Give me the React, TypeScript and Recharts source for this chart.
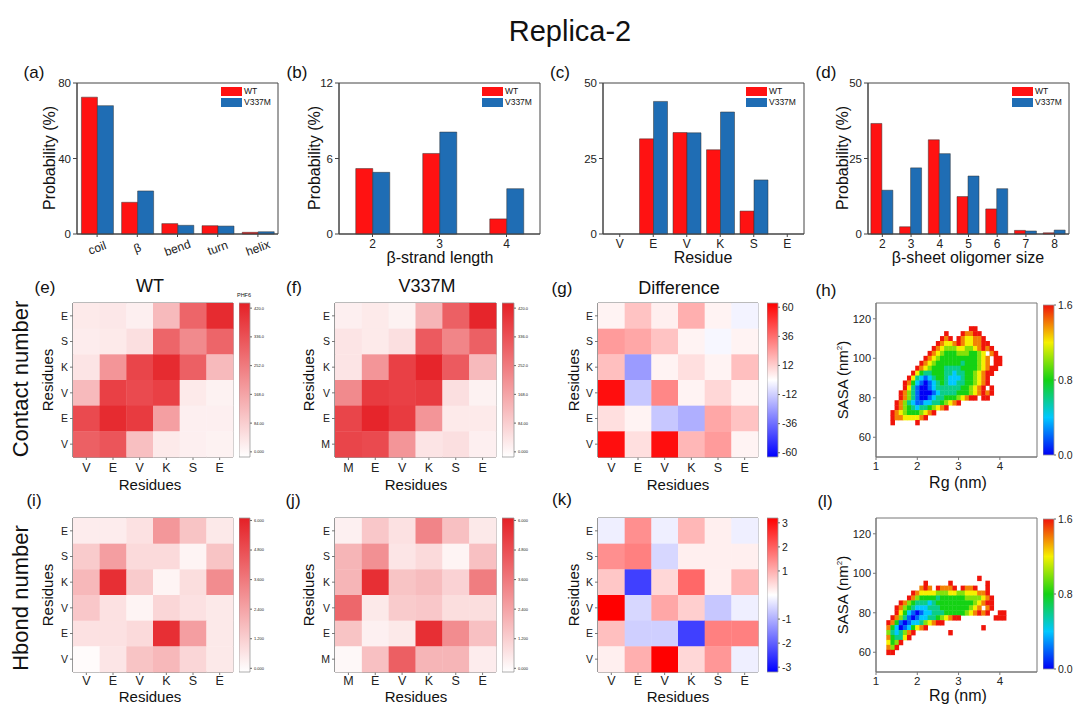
import React from "react";
import {
  Bar,
  BarChart,
  ReferenceArea,
  Scatter,
  ScatterChart,
  XAxis,
  YAxis
} from "recharts";

const FONT = "'Liberation Sans', Arial, Helvetica, sans-serif";
const RED = "#ff1212";
const BLUE = "#1f6db4";
const AXIS = "#444";
const FRAME = "#777";

// ---- (a) secondary structure ----
const ssCategories = ["coil", "β", "bend", "turn", "helix"];
const ssWT = [72.5, 16.8, 5.5, 4.4, 0.9];
const ssV337M = [68.0, 22.8, 4.6, 4.2, 1.2];

// ---- (b) beta-strand length ----
const strandLengths = ["2", "3", "4"];
const strandWT = [5.2, 6.4, 1.2];
const strandV337M = [4.9, 8.1, 3.6];

// ---- (c) per-residue beta probability ----
const residueCats = ["V", "E", "V", "K", "S", "E"];
const residueWT = [0, 31.5, 33.6, 27.9, 7.6, 0];
const residueV337M = [0, 43.9, 33.5, 40.4, 17.9, 0];

// ---- (d) beta-sheet oligomer size ----
const oligomerSizes = ["2", "3", "4", "5", "6", "7", "8"];
const oligomerWT = [36.6, 2.4, 31.2, 12.4, 8.3, 1.2, 0.4];
const oligomerV337M = [14.5, 21.9, 26.6, 19.2, 15.0, 1.0, 1.3];

// ---- heatmaps (rows listed top -> bottom) ----
const residuesWT = ["V", "E", "V", "K", "S", "E"];
const residuesMut = ["M", "E", "V", "K", "S", "E"];

const contactWT = [
  [40, 45, 30, 130, 290, 400],
  [35, 40, 60, 290, 220, 290],
  [50, 200, 350, 400, 300, 130],
  [130, 360, 340, 360, 40, 25],
  [340, 400, 370, 180, 30, 30],
  [300, 320, 120, 40, 30, 25]
];
const contactMut = [
  [30, 40, 25, 140, 300, 410],
  [50, 40, 60, 310, 230, 300],
  [50, 200, 360, 410, 310, 130],
  [220, 370, 360, 370, 60, 25],
  [350, 410, 370, 200, 40, 40],
  [350, 340, 200, 50, 60, 30]
];
const contactDiff = [
  [3, 15, 4, 20, 3, -3],
  [25, 22, 15, 3, -2, 3],
  [16, -25, 3, 8, 3, 16],
  [60, -14, 30, 3, 10, 3],
  [8, 3, -14, -20, 22, 15],
  [60, 8, 60, 18, 25, 3]
];
const hbondWT = [
  [0.5, 0.5, 0.8, 2.8, 1.6, 0.6],
  [1.4, 2.6, 1.0, 1.0, 0.3, 1.6],
  [1.9, 5.6, 1.4, 0.3, 0.9, 3.1],
  [1.5, 0.8, 0.3, 1.1, 0.8, 0.6],
  [0.8, 0.8, 1.0, 5.6, 2.6, 0.6],
  [0.1, 0.7, 1.6, 1.9, 1.1, 0.6]
];
const hbondMut = [
  [0.4, 1.5, 0.8, 3.3, 1.7, 0.6],
  [2.0, 3.0, 0.7, 1.0, 0.3, 1.7],
  [2.0, 5.6, 1.6, 1.8, 1.2, 3.5],
  [4.1, 0.6, 1.4, 1.5, 0.9, 0.9],
  [1.6, 0.4, 0.6, 5.6, 3.1, 1.7],
  [0.2, 1.7, 4.3, 2.0, 2.0, 0.5]
];
const hbondDiff = [
  [-0.2, 1.4, -0.2, 0.9, 0.2, -0.2],
  [1.4, 1.6, -0.5, 0.2, 0.2, 0.2],
  [0.7, -2.4, 0.5, 1.9, 0.2, 0.9],
  [3.2, -0.5, 1.1, 0.6, -0.7, -0.2],
  [0.8, -0.6, -0.6, -2.4, 1.6, 1.6],
  [0.2, 1.0, 3.2, 0.5, 1.3, -0.2]
];

const contactTicks = [0, 84, 168, 252, 336, 420];
const hbondTicks = [0, 1.2, 2.4, 3.6, 4.8, 6];
const contactDiffTicks = [-60, -36, -12, 12, 36, 60];
const hbondDiffTicks = [-3, -2, -1, 1, 2, 3];
const fesTicks = [0, 0.8, 1.6];

// ---- free energy maps: Rg (columns) x SASA (rows), digit d = d*0.2, "." = empty ----
const rgLevels = [1.2, 1.3, 1.4, 1.5, 1.6, 1.7, 1.8, 1.9, 2.0, 2.1, 2.2, 2.3, 2.4, 2.5, 2.6, 2.7, 2.8, 2.9, 3.0, 3.1, 3.2, 3.3, 3.4, 3.5, 3.6, 3.7, 3.8, 3.9, 4.0, 4.1];
const sasaLevels = [117.5, 115, 112.5, 110, 107.5, 105, 102.5, 100, 97.5, 95, 92.5, 90, 87.5, 85, 82.5, 80, 77.5, 75, 72.5, 70, 67.5, 65, 62.5, 60];

const fesWT = [
  "",
  ".....................88",
  "...............8...87788",
  "..............878.8766778",
  ".............8766787667788",
  "............876555665567878",
  "...........87654445554456.78",
  "..........8765444444444567.88",
  ".........87654444443444567.88",
  "........87654443333444456788",
  ".......86433444332334456788",
  "......86321234432223445678",
  ".....874210123432233445678",
  ".....86310012333333445678.8",
  "....87531000123333444567878",
  "....8753100123344456788.88",
  "...8753211223345678",
  "...8754323345678",
  "..87654445678",
  "..877666678",
  "..8.....8",
  "",
  "",
  ""
];
const fesMut = [
  "",
  "",
  "",
  "",
  "",
  "",
  "",
  "",
  ".......................8",
  "..........8.....8........8",
  ".........787.87778.8778..8",
  ".......8766665556655666778",
  "......875444434444445555678",
  "....87543332344444444456788",
  "...875432223334444444567.78",
  "...86421012233344444567878..88",
  "..87531012233456788........888",
  ".87410122356788",
  ".7420124678.............8",
  ".5323578........8",
  ".743368",
  ".6458",
  ".758",
  ".88"
];

type Box = { x: number; y: number; w: number; h: number };

function mix(a: number[], b: number[], t: number) {
  const c = a.map((v, i) => Math.round(v + (b[i] - v) * t));
  return `rgb(${c[0]},${c[1]},${c[2]})`;
}
const clamp = (t: number) => Math.max(0, Math.min(1, t));
const WHITE = [255, 255, 255];
const HEAT_RED = [229, 32, 38];
const redScale = (max: number) => (v: number) => mix(WHITE, HEAT_RED, clamp(v / max));
const divScale = (max: number) => (v: number) =>
  v >= 0 ? mix(WHITE, [255, 0, 0], clamp(v / max)) : mix(WHITE, [0, 0, 255], clamp(-v / max));
const JET: [number, number[]][] = [
  [0, [0, 0, 245]],
  [0.25, [0, 200, 255]],
  [0.5, [20, 210, 20]],
  [0.75, [245, 240, 0]],
  [1, [240, 20, 10]]
];
function jet(v: number) {
  const t = clamp(v / 1.6);
  for (let i = 1; i < JET.length; i++) {
    if (t <= JET[i][0]) {
      const [t0, c0] = JET[i - 1];
      const [t1, c1] = JET[i];
      return mix(c0, c1, (t - t0) / (t1 - t0));
    }
  }
  return mix(JET[4][1], JET[4][1], 0);
}

function Text({ x, y, size, rotate, children }: { x: number; y: number; size: number; rotate?: boolean; children: React.ReactNode }) {
  return (
    <div
      style={{
        position: "absolute",
        left: x,
        top: y,
        transform: `translate(-50%, -50%)${rotate ? " rotate(-90deg)" : ""}`,
        fontSize: size,
        lineHeight: 1,
        whiteSpace: "nowrap",
        color: "#111"
      }}
    >
      {children}
    </div>
  );
}

function BarLegend({ x, y }: { x: number; y: number }) {
  const items: [string, string][] = [["WT", RED], ["V337M", BLUE]];
  return (
    <div style={{ position: "absolute", left: x, top: y, fontSize: 8.5, color: "#111" }}>
      {items.map(([name, color]) => (
        <div key={name} style={{ display: "flex", alignItems: "center", height: 10.5, marginBottom: 0.5 }}>
          <span style={{ width: 21, height: 9.5, background: color, display: "inline-block", marginRight: 2 }} />
          {name}
        </div>
      ))}
    </div>
  );
}

function SlantTick(props: any) {
  const { x, y, payload } = props;
  return (
    <g transform={`translate(${x},${y + 9}) rotate(-20)`}>
      <text textAnchor="middle" dy={4} fontSize={12} fill="#222">
        {payload.value}
      </text>
    </g>
  );
}

function BarPanel({
  box, cats, wt, mut, yMax, yTicks, gap, slant
}: {
  box: Box; cats: string[]; wt: number[]; mut: number[]; yMax: number; yTicks: number[]; gap: string; slant?: boolean;
}) {
  const data = cats.map((name, i) => ({ name, wt: wt[i], mut: mut[i] }));
  const L = 50, T = 6, R = 6, B = 36;
  return (
    <div style={{ position: "absolute", left: box.x - L, top: box.y - T }}>
      <BarChart
        width={box.w + L + R}
        height={box.h + T + B}
        data={data}
        margin={{ top: T, right: R, bottom: 0, left: 0 }}
        barCategoryGap={gap}
        barGap={0}
      >
        <Bar dataKey="wt" fill={RED} stroke="#333" strokeWidth={0.5} isAnimationActive={false} />
        <Bar dataKey="mut" fill={BLUE} stroke="#333" strokeWidth={0.5} isAnimationActive={false} />
        <ReferenceArea y1={0} y2={yMax} fill="none" fillOpacity={0} stroke={AXIS} strokeWidth={1} />
        <XAxis
          dataKey="name"
          height={B}
          interval={0}
          tickSize={3}
          axisLine={{ stroke: AXIS }}
          tickLine={{ stroke: AXIS }}
          tick={slant ? <SlantTick /> : { fontSize: 12, fill: "#222" }}
        />
        <YAxis
          width={L}
          type="number"
          domain={[0, yMax]}
          ticks={yTicks}
          interval={0}
          tickSize={4}
          axisLine={{ stroke: AXIS }}
          tickLine={{ stroke: AXIS }}
          tick={{ fontSize: 11.5, fill: "#222" }}
        />
      </BarChart>
    </div>
  );
}

function HeatPanel({
  box, matrix, labels, color, gapBelow
}: {
  box: Box; matrix: number[][]; labels: string[]; color: (v: number) => string; gapBelow: number;
}) {
  const n = labels.length;
  const cells = matrix.flatMap((row, ri) => row.map((v, ci) => ({ x: ci, y: n - 1 - ri, v })));
  const cw = box.w / n, ch = box.h / n;
  const idx = labels.map((_, i) => i);
  const L = 30, T = 4, R = 4, B = 22;
  return (
    <div style={{ position: "absolute", left: box.x - L, top: box.y - T }}>
      <ScatterChart width={box.w + L + R} height={box.h + T + B} margin={{ top: T, right: R, bottom: 0, left: 0 }}>
        <Scatter
          data={cells}
          isAnimationActive={false}
          shape={(p: any) => (
            <rect x={p.cx - cw / 2} y={p.cy - ch / 2} width={cw + 0.4} height={ch + 0.4} fill={color(p.payload.v)} />
          )}
        />
        <ReferenceArea x1={-0.5} x2={n - 0.5} y1={-0.5} y2={n - 0.5} fill="none" fillOpacity={0} stroke={FRAME} strokeWidth={1} />
        <XAxis
          type="number"
          dataKey="x"
          domain={[-0.5, n - 0.5]}
          ticks={idx}
          interval={0}
          tickFormatter={(i: number) => labels[i]}
          height={B}
          tickSize={3}
          tickMargin={gapBelow}
          axisLine={{ stroke: FRAME }}
          tickLine={{ stroke: FRAME }}
          tick={{ fontSize: 12.5, fill: "#222" }}
        />
        <YAxis
          type="number"
          dataKey="y"
          domain={[-0.5, n - 0.5]}
          ticks={idx}
          interval={0}
          tickFormatter={(i: number) => labels[i]}
          width={L}
          tickSize={3}
          axisLine={{ stroke: FRAME }}
          tickLine={{ stroke: FRAME }}
          tick={{ fontSize: 10.5, fill: "#222" }}
        />
      </ScatterChart>
    </div>
  );
}

function FesPanel({ box, grid }: { box: Box; grid: string[] }) {
  const xMin = 1, xMax = 4.9, yMin = 50, yMax = 128;
  const cells = grid.flatMap((row, r) =>
    row.split("").flatMap((ch, c) => (ch === "." ? [] : [{ x: rgLevels[c], y: sasaLevels[r], v: Number(ch) * 0.2 }]))
  );
  const cw = (box.w * 0.1) / (xMax - xMin);
  const chh = (box.h * 2.5) / (yMax - yMin);
  const L = 40, T = 4, R = 4, B = 22;
  return (
    <div style={{ position: "absolute", left: box.x - L, top: box.y - T }}>
      <ScatterChart width={box.w + L + R} height={box.h + T + B} margin={{ top: T, right: R, bottom: 0, left: 0 }}>
        <Scatter
          data={cells}
          isAnimationActive={false}
          shape={(p: any) => (
            <rect x={p.cx - cw / 2} y={p.cy - chh / 2} width={cw + 0.4} height={chh + 0.4} fill={jet(p.payload.v)} />
          )}
        />
        <ReferenceArea x1={xMin} x2={xMax} y1={yMin} y2={yMax} fill="none" fillOpacity={0} stroke={FRAME} strokeWidth={1} />
        <XAxis
          type="number"
          dataKey="x"
          domain={[xMin, xMax]}
          ticks={[1, 2, 3, 4]}
          interval={0}
          height={B}
          tickSize={3}
          axisLine={{ stroke: FRAME }}
          tickLine={{ stroke: FRAME }}
          tick={{ fontSize: 11.5, fill: "#222" }}
        />
        <YAxis
          type="number"
          dataKey="y"
          domain={[yMin, yMax]}
          ticks={[60, 80, 100, 120]}
          interval={0}
          width={L}
          tickSize={3}
          axisLine={{ stroke: FRAME }}
          tickLine={{ stroke: FRAME }}
          tick={{ fontSize: 11, fill: "#222" }}
        />
      </ScatterChart>
    </div>
  );
}

function ColorBar({
  box, domain, ticks, grad, fmt, fontSize
}: {
  box: Box; domain: [number, number]; ticks: number[]; grad: string; fmt: (v: number) => string; fontSize: number;
}) {
  const R = 28, M = 9;
  return (
    <div style={{ position: "absolute", left: box.x, top: box.y - M }}>
      <BarChart
        width={box.w + R}
        height={box.h + 2 * M}
        data={[{ name: "bar", range: domain }]}
        margin={{ top: M, bottom: M, left: 0, right: 0 }}
        barCategoryGap={0}
      >
        <XAxis dataKey="name" hide />
        <YAxis
          orientation="right"
          type="number"
          domain={domain}
          ticks={ticks}
          interval={0}
          width={R}
          tickFormatter={fmt}
          tickSize={2}
          axisLine={false}
          tickLine={{ stroke: "#666" }}
          tick={{ fontSize, fill: "#222" }}
        />
        <Bar dataKey="range" fill={`url(#${grad})`} stroke="#999" strokeWidth={0.8} isAnimationActive={false} />
      </BarChart>
    </div>
  );
}

const contactFmt = (v: number) => (v === 0 ? "0.000" : v < 100 ? v.toFixed(2) : v.toFixed(1));
const hbondFmt = (v: number) => v.toFixed(3);
const intFmt = (v: number) => String(v);
const oneFmt = (v: number) => v.toFixed(1);

export default function App() {
  const top = 83, mid = 303, bot = 518;
  return (
    <div
      style={{
        position: "absolute",
        left: 0,
        top: 0,
        width: 1076,
        height: 705,
        background: "#fff",
        fontFamily: FONT,
        overflow: "hidden"
      }}
    >
      <svg width={0} height={0} style={{ position: "absolute" }}>
        <defs>
          <linearGradient id="gradRed" x1="0" y1="1" x2="0" y2="0">
            <stop offset="0" stopColor="#ffffff" />
            <stop offset="1" stopColor="rgb(229,32,38)" />
          </linearGradient>
          <linearGradient id="gradDiv" x1="0" y1="1" x2="0" y2="0">
            <stop offset="0" stopColor="#0000ff" />
            <stop offset="0.5" stopColor="#ffffff" />
            <stop offset="1" stopColor="#ff0000" />
          </linearGradient>
          <linearGradient id="gradJet" x1="0" y1="1" x2="0" y2="0">
            {JET.map(([t, c]) => (
              <stop key={t} offset={t} stopColor={`rgb(${c[0]},${c[1]},${c[2]})`} />
            ))}
          </linearGradient>
        </defs>
      </svg>

      <Text x={570} y={31} size={29}>Replica-2</Text>

      {/* top row */}
      <BarPanel box={{ x: 77, y: top, w: 201, h: 151 }} cats={ssCategories} wt={ssWT} mut={ssV337M} yMax={80} yTicks={[0, 40, 80]} gap="11%" slant />
      <BarPanel box={{ x: 339, y: top, w: 201, h: 151 }} cats={strandLengths} wt={strandWT} mut={strandV337M} yMax={12} yTicks={[0, 6, 12]} gap="25%" />
      <BarPanel box={{ x: 603, y: top, w: 201, h: 151 }} cats={residueCats} wt={residueWT} mut={residueV337M} yMax={50} yTicks={[0, 25, 50]} gap="9%" />
      <BarPanel box={{ x: 868, y: top, w: 201, h: 151 }} cats={oligomerSizes} wt={oligomerWT} mut={oligomerV337M} yMax={50} yTicks={[0, 25, 50]} gap="10%" />
      <BarLegend x={221} y={86} />
      <BarLegend x={482} y={86} />
      <BarLegend x={746} y={86} />
      <BarLegend x={1012} y={86} />
      <Text x={34} y={72} size={17}>(a)</Text>
      <Text x={297} y={72} size={17}>(b)</Text>
      <Text x={560} y={72} size={17}>(c)</Text>
      <Text x={826} y={72} size={17}>(d)</Text>
      <Text x={50} y={158} size={16} rotate>Probability (%)</Text>
      <Text x={315} y={158} size={16} rotate>Probability (%)</Text>
      <Text x={843} y={158} size={16} rotate>Probability (%)</Text>
      <Text x={440} y={258} size={16}>β-strand length</Text>
      <Text x={703} y={258} size={16}>Residue</Text>
      <Text x={968} y={258} size={16}>β-sheet oligomer size</Text>

      {/* middle row: contact number */}
      <HeatPanel box={{ x: 73, y: mid, w: 160, h: 154 }} matrix={contactWT} labels={residuesWT} color={redScale(420)} gapBelow={3} />
      <HeatPanel box={{ x: 335, y: mid, w: 161, h: 154 }} matrix={contactMut} labels={residuesMut} color={redScale(420)} gapBelow={3} />
      <HeatPanel box={{ x: 598, y: mid, w: 160, h: 154 }} matrix={contactDiff} labels={residuesWT} color={divScale(63.5)} gapBelow={3} />
      <FesPanel box={{ x: 876, y: mid, w: 161, h: 154 }} grid={fesWT} />
      <ColorBar box={{ x: 239, y: mid, w: 11, h: 154 }} domain={[-15, 435]} ticks={contactTicks} grad="gradRed" fmt={contactFmt} fontSize={4} />
      <ColorBar box={{ x: 502, y: mid, w: 12, h: 154 }} domain={[-15, 435]} ticks={contactTicks} grad="gradRed" fmt={contactFmt} fontSize={4} />
      <ColorBar box={{ x: 767, y: mid, w: 11, h: 154 }} domain={[-63.5, 63.5]} ticks={contactDiffTicks} grad="gradDiv" fmt={intFmt} fontSize={10.5} />
      <ColorBar box={{ x: 1043, y: mid + 2, w: 11, h: 150 }} domain={[0, 1.6]} ticks={fesTicks} grad="gradJet" fmt={oneFmt} fontSize={10.5} />
      <Text x={244} y={296} size={5.5}>PHF6</Text>
      <Text x={45} y={287} size={17}>(e)</Text>
      <Text x={294} y={287} size={17}>(f)</Text>
      <Text x={562} y={288} size={17}>(g)</Text>
      <Text x={826} y={290} size={17}>(h)</Text>
      <Text x={150} y={286} size={18}>WT</Text>
      <Text x={427} y={286} size={18}>V337M</Text>
      <Text x={679} y={288} size={18}>Difference</Text>
      <Text x={21} y={379} size={22} rotate>Contact number</Text>
      <Text x={47} y={380} size={15} rotate>Residues</Text>
      <Text x={308} y={380} size={15} rotate>Residues</Text>
      <Text x={573} y={380} size={15} rotate>Residues</Text>
      <Text x={842} y={380} size={15} rotate>SASA (nm<sup style={{ fontSize: 8 }}>2</sup>)</Text>
      <Text x={150} y={484} size={15}>Residues</Text>
      <Text x={416} y={484} size={15}>Residues</Text>
      <Text x={678} y={484} size={15}>Residues</Text>
      <Text x={958} y={483} size={16}>Rg (nm)</Text>

      {/* bottom row: hbond number */}
      <HeatPanel box={{ x: 73, y: bot, w: 160, h: 154 }} matrix={hbondWT} labels={residuesWT} color={redScale(6)} gapBelow={1} />
      <HeatPanel box={{ x: 335, y: bot, w: 161, h: 154 }} matrix={hbondMut} labels={residuesMut} color={redScale(6)} gapBelow={1} />
      <HeatPanel box={{ x: 598, y: bot, w: 160, h: 154 }} matrix={hbondDiff} labels={residuesWT} color={divScale(3.2)} gapBelow={1} />
      <FesPanel box={{ x: 876, y: bot, w: 161, h: 154 }} grid={fesMut} />
      <ColorBar box={{ x: 239, y: bot, w: 11, h: 154 }} domain={[-0.15, 6.1]} ticks={hbondTicks} grad="gradRed" fmt={hbondFmt} fontSize={4} />
      <ColorBar box={{ x: 502, y: bot, w: 12, h: 154 }} domain={[-0.15, 6.1]} ticks={hbondTicks} grad="gradRed" fmt={hbondFmt} fontSize={4} />
      <ColorBar box={{ x: 767, y: bot, w: 11, h: 154 }} domain={[-3.2, 3.2]} ticks={hbondDiffTicks} grad="gradDiv" fmt={intFmt} fontSize={10.5} />
      <ColorBar box={{ x: 1043, y: bot + 1, w: 11, h: 150 }} domain={[0, 1.6]} ticks={fesTicks} grad="gradJet" fmt={oneFmt} fontSize={10.5} />
      <Text x={34} y={500} size={17}>(i)</Text>
      <Text x={293} y={500} size={17}>(j)</Text>
      <Text x={562} y={499} size={17}>(k)</Text>
      <Text x={825} y={501} size={17}>(l)</Text>
      <Text x={21} y={598} size={22} rotate>Hbond number</Text>
      <Text x={47} y={595} size={15} rotate>Residues</Text>
      <Text x={308} y={595} size={15} rotate>Residues</Text>
      <Text x={573} y={595} size={15} rotate>Residues</Text>
      <Text x={842} y={595} size={15} rotate>SASA (nm<sup style={{ fontSize: 8 }}>2</sup>)</Text>
      <Text x={150} y={696} size={15}>Residues</Text>
      <Text x={416} y={696} size={15}>Residues</Text>
      <Text x={678} y={696} size={15}>Residues</Text>
      <Text x={958} y={696} size={16}>Rg (nm)</Text>
    </div>
  );
}
